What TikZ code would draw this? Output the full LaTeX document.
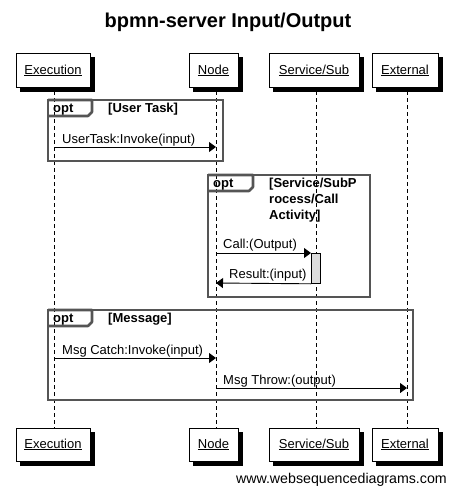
\documentclass[tikz,border=0pt]{standalone}
\usepackage{fontspec}
\setmainfont{Liberation Sans}
\usetikzlibrary{arrows.meta}
\definecolor{frame}{HTML}{555555}
\definecolor{act}{HTML}{DDDDDD}
\begin{document}
\begin{tikzpicture}[x=1pt,y=-1pt,
  part/.style={draw=black, line width=1pt, fill=white, minimum height=33pt, inner sep=0pt,
    font=\fontsize{13}{15}\selectfont},
  shadnode/.style={draw=black, line width=1pt, fill=black, minimum height=33pt, inner sep=0pt},
  life/.style={draw=black, line width=0.8pt, dash pattern=on 4pt off 3pt},
  msg/.style={draw=black, line width=0.9pt, -{Triangle[length=7pt,width=10pt]}},
  frm/.style={draw=frame, line width=2.6pt},
  lbl/.style={font=\fontsize{13}{15}\selectfont, anchor=base west, inner sep=0pt},
  blbl/.style={font=\fontsize{13}{15}\selectfont\bfseries, anchor=base west, inner sep=0pt},
]
\useasboundingbox (0,0) rectangle (456,495);

% title
\node[font=\fontsize{20}{24}\selectfont\bfseries, anchor=base] (title) at (228,28) {bpmn-server Input/Output};

% lifelines
\coordinate (exA) at (54,91); \coordinate (exZ) at (54,428);
\coordinate (ndA) at (216,91); \coordinate (ndZ) at (216,428);
\coordinate (svA) at (316,91); \coordinate (svZ) at (316,428);
\coordinate (xtA) at (407,91); \coordinate (xtZ) at (407,428);
\draw[life] (exA) -- (exZ);
\draw[life] (ndA) -- (ndZ);
\draw[life] (svA) -- (svZ);
\draw[life] (xtA) -- (xtZ);

% shadow nodes
\node[shadnode, minimum width=74pt] (exTs) at (57,74.5) {};
\node[shadnode, minimum width=49pt] (ndTs) at (217.5,74.5) {};
\node[shadnode, minimum width=90pt] (svTs) at (318,74.5) {};
\node[shadnode, minimum width=66pt] (xtTs) at (409,74.5) {};
\node[shadnode, minimum width=74pt] (exBs) at (57,448.5) {};
\node[shadnode, minimum width=49pt] (ndBs) at (217.5,448.5) {};
\node[shadnode, minimum width=90pt] (svBs) at (318,448.5) {};
\node[shadnode, minimum width=66pt] (xtBs) at (409,448.5) {};

% participants
\node[part, minimum width=74pt] (exT) at (53,70.5) {\underline{Execution}};
\node[part, minimum width=49pt] (ndT) at (213.5,70.5) {\underline{Node}};
\node[part, minimum width=90pt] (svT) at (314,70.5) {\underline{Service/Sub}};
\node[part, minimum width=66pt] (xtT) at (405,70.5) {\underline{External}};
\node[part, minimum width=74pt] (exB) at (53,444.5) {\underline{Execution}};
\node[part, minimum width=49pt] (ndB) at (213.5,444.5) {\underline{Node}};
\node[part, minimum width=90pt] (svB) at (314,444.5) {\underline{Service/Sub}};
\node[part, minimum width=66pt] (xtB) at (405,444.5) {\underline{External}};

% opt 1
\draw[frm] (48,100) rectangle (223,161);
\draw[frm, line join=round] (48,100) -- (92,100) -- (92,112) -- (88,116) -- (48,116);
\node[blbl] (o1) at (53,112) {opt};
\node[blbl] (g1) at (108,112) {[User Task]};
\coordinate (m1a) at (54,147); \coordinate (m1b) at (216,147);
\draw[msg] (m1a) -- (m1b);
\node[lbl] (l1) at (62,143) {UserTask:Invoke(input)};

% opt 2
\draw[frm] (208,175) rectangle (370,297);
\draw[frm, line join=round] (208,175) -- (253,175) -- (253,187) -- (249,191) -- (208,191);
\node[blbl] (o2) at (213,187) {opt};
\node[blbl] (g2a) at (269,187) {[Service/SubP};
\node[blbl] (g2b) at (269,203) {rocess/Call};
\node[blbl] (g2c) at (269,219) {Activity]};
\node[draw=black, line width=0.8pt, fill=act, minimum width=9pt, minimum height=30pt, inner sep=0pt,
  anchor=north west] (act) at (311,253) {};
\coordinate (m2a) at (216,253);
\draw[msg] (m2a) -- (act.north west);
\node[lbl] (l2) at (223,248) {Call:(Output)};
\coordinate (m3b) at (216,283);
\draw[msg] (act.south west) -- (m3b);
\node[lbl] (l3) at (229,278) {Result:(input)};

% opt 3
\draw[frm] (48,310) rectangle (413,400);
\draw[frm, line join=round] (48,310) -- (92,310) -- (92,322) -- (88,326) -- (48,326);
\node[blbl] (o3) at (53,322) {opt};
\node[blbl] (g3) at (108,322) {[Message]};
\coordinate (m4a) at (54,358); \coordinate (m4b) at (216,358);
\draw[msg] (m4a) -- (m4b);
\node[lbl] (l4) at (62,354) {Msg Catch:Invoke(input)};
\coordinate (m5a) at (216,388); \coordinate (m5b) at (407,388);
\draw[msg] (m5a) -- (m5b);
\node[lbl] (l5) at (223,384) {Msg Throw:(output)};

% watermark
\node[font=\fontsize{14.2}{17}\selectfont, anchor=base east, inner sep=0pt] (wm) at (447,483) {www.websequencediagrams.com};
\end{tikzpicture}
\end{document}
